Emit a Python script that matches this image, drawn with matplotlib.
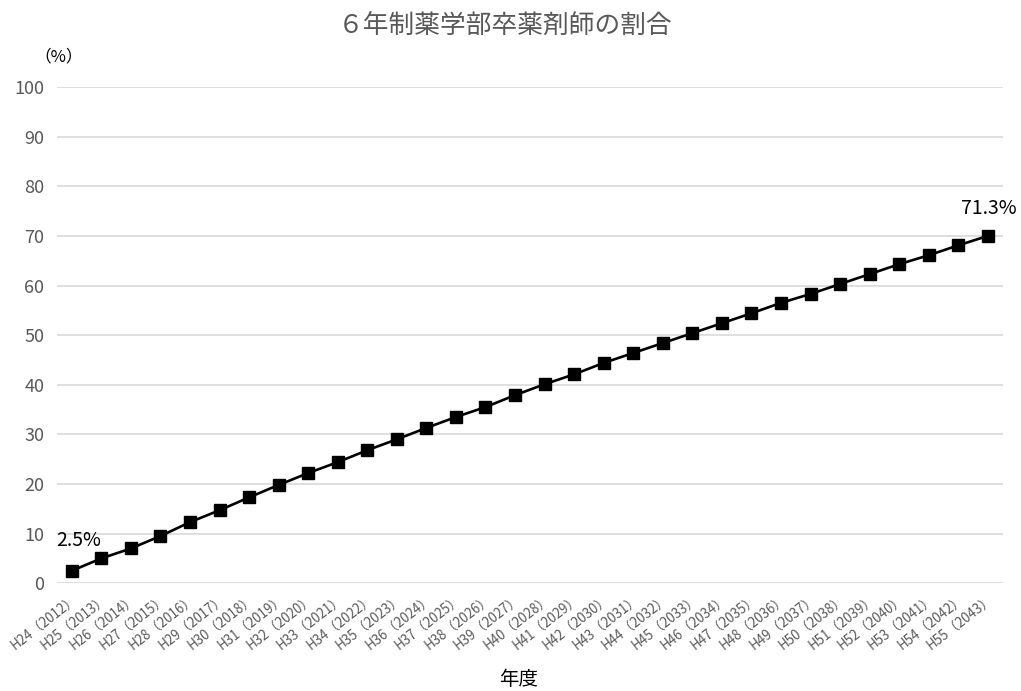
import matplotlib
matplotlib.use('Agg')
import matplotlib.pyplot as plt

plt.rcParams['font.family'] = ['Noto Sans CJK JP', 'DejaVu Sans']

# 年度ラベル
years = ['H24（2012）', 'H25（2013）', 'H26（2014）', 'H27（2015）', 'H28（2016）',
         'H29（2017）', 'H30（2018）', 'H31（2019）', 'H32（2020）', 'H33（2021）',
         'H34（2022）', 'H35（2023）', 'H36（2024）', 'H37（2025）', 'H38（2026）',
         'H39（2027）', 'H40（2028）', 'H41（2029）', 'H42（2030）', 'H43（2031）',
         'H44（2032）', 'H45（2033）', 'H46（2034）', 'H47（2035）', 'H48（2036）',
         'H49（2037）', 'H50（2038）', 'H51（2039）', 'H52（2040）', 'H53（2041）',
         'H54（2042）', 'H55（2043）']
# 割合 (%)
ratio = [2.5, 5.0, 7.0, 9.5, 12.3, 14.7, 17.3, 19.8, 22.2, 24.4,
         26.8, 29.0, 31.3, 33.5, 35.5, 37.9, 40.1, 42.1, 44.4, 46.4,
         48.4, 50.4, 52.4, 54.4, 56.5, 58.3, 60.3, 62.3, 64.3, 66.1,
         68.1, 70.0]
first_label = '2.5%'
last_label = '71.3%'

fig = plt.figure(figsize=(10.21, 6.91), dpi=100)
ax = fig.add_axes([0.0558, 0.156, 0.9262, 0.718])

x = list(range(len(years)))
ax.plot(x, ratio, color='black', linewidth=1.9, marker='s', markersize=8.5, zorder=3)

ax.set_xlim(-0.5, len(years) - 0.5)
ax.set_ylim(0, 100)
ax.set_yticks(range(0, 101, 10))
ax.grid(axis='y', color='#d9d9d9', linewidth=1.2)
ax.set_axisbelow(True)
for s in ax.spines.values():
    s.set_visible(False)
ax.tick_params(length=0)
ax.tick_params(axis='y', labelsize=13, labelcolor='#595959', pad=9)

ax.set_xticks(x)
ax.set_xticklabels(years, rotation=38, ha='right', rotation_mode='anchor',
                   fontsize=9.6, color='#595959')
ax.tick_params(axis='x', pad=6)

# データラベル
ax.annotate(first_label, (x[0], ratio[0]), xytext=(5, 22), textcoords='offset points',
            ha='center', va='center', fontsize=14, color='black')
ax.annotate(last_label, (x[-1], ratio[-1]), xytext=(1, 20), textcoords='offset points',
            ha='center', va='center', fontsize=14, color='black')

fig.text(0.495, 0.962, '６年制薬学部卒薬剤師の割合', ha='center', va='center',
         fontsize=18.5, color='#595959')
fig.text(0.057, 0.918, '（%）', ha='center', va='center', fontsize=12, color='black')
fig.text(0.508, 0.016, '年度', ha='center', va='center', fontsize=14, color='black')

fig.savefig('out.png', dpi=100)
